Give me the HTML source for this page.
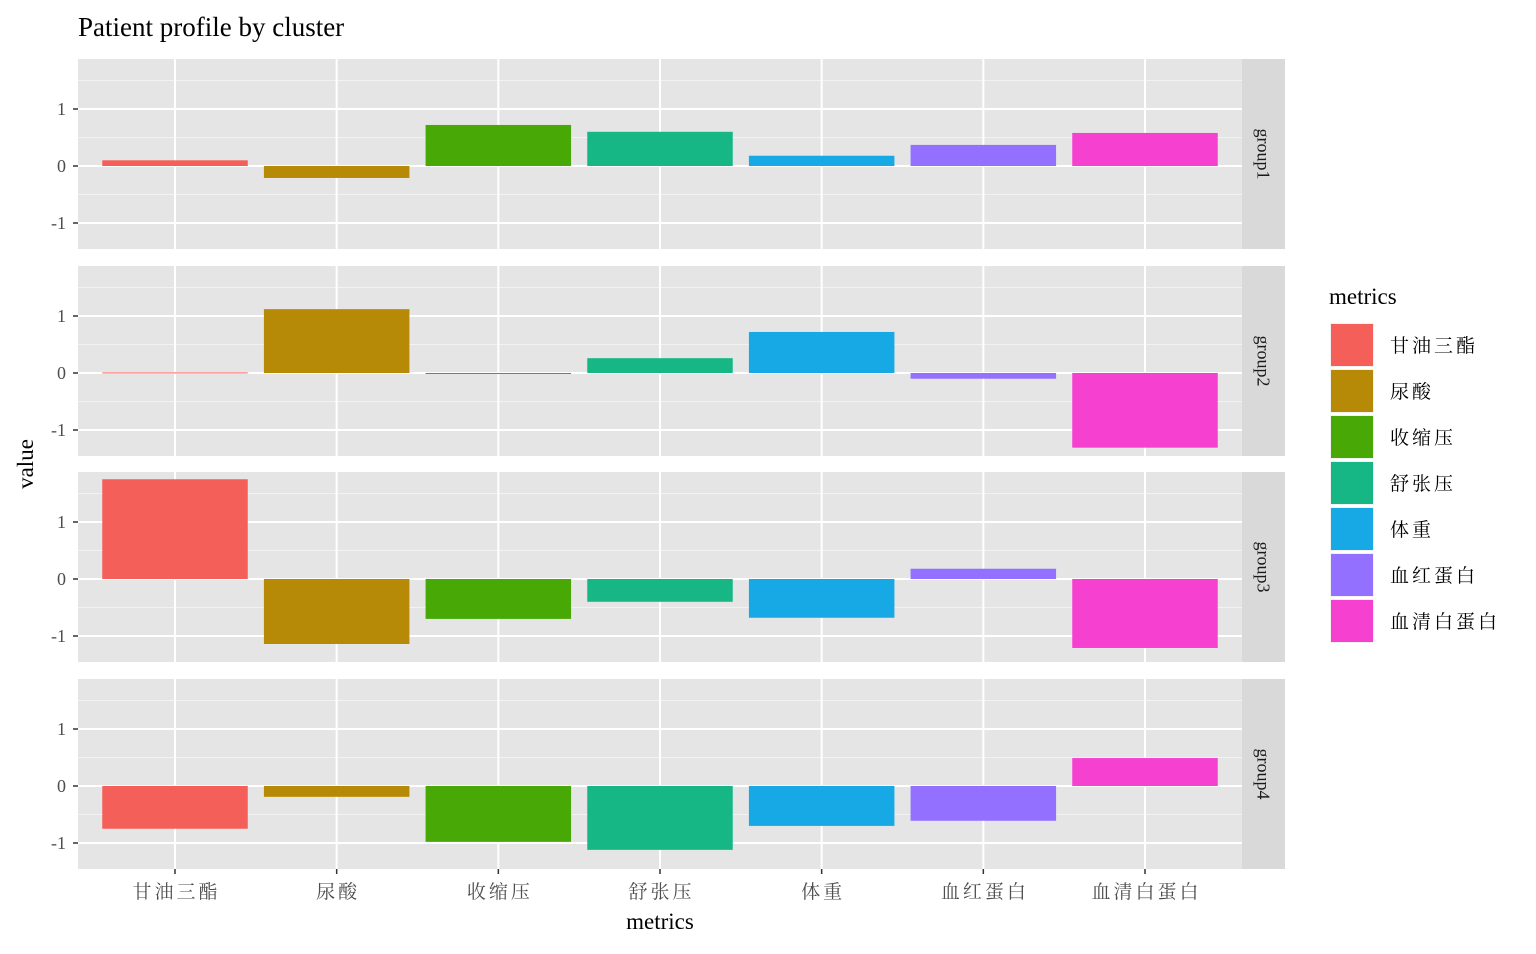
<!DOCTYPE html>
<html><head><meta charset="utf-8">
<style>
html,body{margin:0;padding:0;background:#fff;}
svg text{font-family:"Liberation Serif","Noto Serif CJK SC",serif;}
</style></head>
<body>
<svg id="chart" width="1536" height="949" xmlns="http://www.w3.org/2000/svg"></svg>
<script>
const categories = ["甘油三酯","尿酸","收缩压","舒张压","体重","血红蛋白","血清白蛋白"];
const groups = ["group1","group2","group3","group4"];
const group1Values = [0.1,-0.21,0.72,0.6,0.18,0.37,0.58];
const group2Values = [0.01,1.12,-0.01,0.26,0.72,-0.1,-1.31];
const group3Values = [1.75,-1.14,-0.7,-0.4,-0.68,0.18,-1.21];
const group4Values = [-0.75,-0.19,-0.98,-1.12,-0.7,-0.61,0.49];
const seriesValues = [group1Values,group2Values,group3Values,group4Values];
const yTicks = [-1,0,1];
const yMinor = [-0.5,0.5,1.5];
const colors = ["#F45F5A","#B68A06","#47A806","#17B685","#17A8E6","#9370FF","#F640D0"];

const NS="http://www.w3.org/2000/svg";
const svg=document.getElementById('chart');
function mk(tag,attrs,parent){const e=document.createElementNS(NS,tag);for(const k in attrs)e.setAttribute(k,attrs[k]);(parent||svg).appendChild(e);return e;}

const px0=78, px1=1242, stripW=43;
const panelTops=[59,266,472,679], panelH=190;
const yMin=-1.456, yMax=1.877;
const step=(px1-px0)/(categories.length-1+1.2);
function xC(i){return px0+(0.6+i)*step;}
function yS(v,top){return top+(yMax-v)/(yMax-yMin)*panelH;}

let t=mk('text',{x:78,y:36,'font-size':27,fill:'#000'});
t.textContent="Patient profile by cluster";



groups.forEach((g,gi)=>{
  const top=panelTops[gi];
  const p=mk('g',{});
  
  
  mk('rect',{x:px0,y:top,width:px1-px0,height:panelH,fill:'#E5E5E5'},p);
  yMinor.forEach(v=>{const y=yS(v,top);if(y>top&&y<top+panelH)mk('line',{x1:px0,x2:px1,y1:y,y2:y,stroke:'#F2F2F2','stroke-width':1},p);});
  yTicks.forEach(v=>{const y=yS(v,top);mk('line',{x1:px0,x2:px1,y1:y,y2:y,stroke:'#fff','stroke-width':2},p);
    mk('line',{x1:73,x2:78,y1:y,y2:y,stroke:'#333','stroke-width':1.5},p);
    const tl=mk('text',{x:66,y:y+6,'font-size':18,fill:'#4D4D4D','text-anchor':'end'},p);tl.textContent=v;
    
    });
  categories.forEach((c,i)=>{const x=xC(i);mk('line',{x1:x,x2:x,y1:top,y2:top+panelH,stroke:'#fff','stroke-width':2},p);});
  seriesValues[gi].forEach((v,i)=>{
    const y0=yS(0,top), y1=yS(v,top);
    const r=mk('rect',{x:xC(i)-step*0.45,width:step*0.9,y:Math.min(y0,y1),height:Math.max(Math.abs(y1-y0),1),fill:colors[i]},p);
    
    
  });
  const s=mk('rect',{x:px1,y:top,width:stripW,height:panelH,fill:'#D9D9D9'},p);
  
  
  const st=mk('text',{x:0,y:0,'font-size':18,fill:'#1A1A1A','text-anchor':'middle',transform:`translate(${px1+stripW/2-6},${top+panelH/2}) rotate(90)`},p);
  st.textContent=g;
});
categories.forEach((c,i)=>{
  const x=xC(i);
  mk('line',{x1:x,x2:x,y1:869,y2:874,stroke:'#333','stroke-width':1.5});
  const tl=mk('text',{x:x+1.5,y:898,'font-size':19,fill:'#4D4D4D','text-anchor':'middle','letter-spacing':3},);
  tl.textContent=c;
  
  
});
let xt=mk('text',{x:660,y:929,'font-size':23,'text-anchor':'middle',fill:'#000'});xt.textContent="metrics";


let yt=mk('text',{x:0,y:0,'font-size':23,'text-anchor':'middle',fill:'#000',transform:'translate(33,464) rotate(-90)'});yt.textContent="value";



const lg=mk('g',{});


let lt=mk('text',{x:1329,y:304,'font-size':23,fill:'#000'},lg);lt.textContent="metrics";
categories.forEach((c,i)=>{
  const y=323+i*46;
  mk('rect',{x:1330,y:y,width:44,height:44,fill:'#F2F2F2'},lg);
  const k=mk('rect',{x:1331,y:y+1,width:42,height:42,fill:colors[i]},lg);
  
  
  const tx=mk('text',{x:1390,y:y+29,'font-size':19,fill:'#000','letter-spacing':3},lg);tx.textContent=c;
});
</script>
</body></html>
